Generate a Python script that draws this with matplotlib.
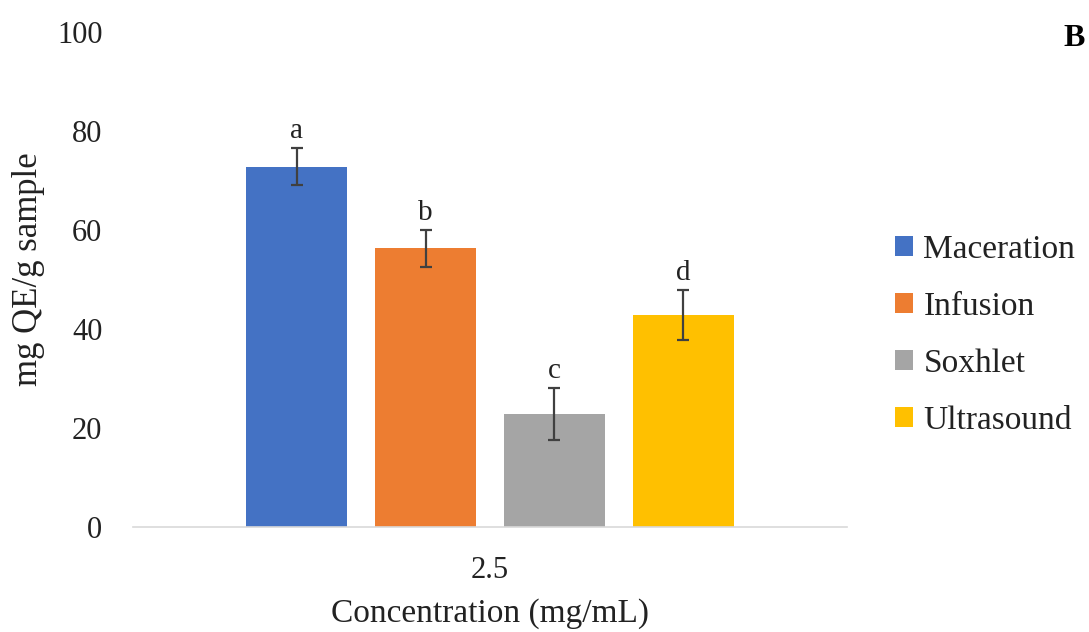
import matplotlib
matplotlib.use("Agg")
import matplotlib.pyplot as plt
import numpy as np

methods = ["Maceration", "Infusion", "Soxhlet", "Ultrasound"]
values = [72.8, 56.3, 22.8, 42.8]
errors = [3.8, 3.8, 5.2, 5.0]
letters = ["a", "b", "c", "d"]
colors = ["#4472C4", "#ED7D31", "#A5A5A5", "#FFC000"]
category = "2.5"

plt.rcParams['font.family'] = ['Liberation Serif', 'DejaVu Serif']

fig = plt.figure(figsize=(10.89, 6.32), dpi=100)
ax = fig.add_axes([133/1089, 105/632, 714/1089, 495/632])

n = len(methods)
offsets = np.arange(n) - (n - 1) / 2
width = 0.78
for off, v, e, c, lab, let in zip(offsets, values, errors, colors, methods, letters):
    ax.bar(off, v, width=width, color=c, label=lab, zorder=2)
    ax.errorbar(off, v, yerr=e, fmt='none', ecolor='#404040', elinewidth=1.6,
                capsize=4.5, capthick=1.6, zorder=3)
    ax.text(off, v + e + 0.8, let, ha='center', va='bottom', fontsize=21, color='#222222')

ax.set_xlim(-2.77, 2.77)
ax.set_ylim(0, 100)
ax.set_yticks([0, 20, 40, 60, 80, 100])
ax.set_xticks([0])
ax.set_xticklabels([category])
ax.tick_params(axis='both', length=0, labelsize=22, colors='#222222')
ax.tick_params(axis='y', pad=22)
ax.tick_params(axis='x', pad=21)
for s in ['top', 'right', 'left']:
    ax.spines[s].set_visible(False)
ax.spines['bottom'].set_color('#d9d9d9')
ax.spines['bottom'].set_linewidth(1.2)

ax.set_ylabel("mg QE/g sample", fontsize=25, color='#222222', va='center')
ax.yaxis.set_label_coords((28 - 133) / 714, (527 - 269) / 495)
ax.set_xlabel("Concentration (mg/mL)", fontsize=24, color='#222222', va='center')
ax.xaxis.set_label_coords(0.5, (527 - 614) / 495)

leg = fig.legend(loc='center left', bbox_to_anchor=(895/1089, 1 - 335/632), frameon=False,
                 fontsize=24, handlelength=0.55, handleheight=0.55, handletextpad=0.3,
                 labelspacing=0.80, borderaxespad=0, borderpad=0)
for t in leg.get_texts():
    t.set_color('#222222')

fig.text(1074/1089, 1 - 39/632, "B", fontsize=23, fontweight='bold', ha='center', va='center')

fig.savefig("out.png", dpi=100)
